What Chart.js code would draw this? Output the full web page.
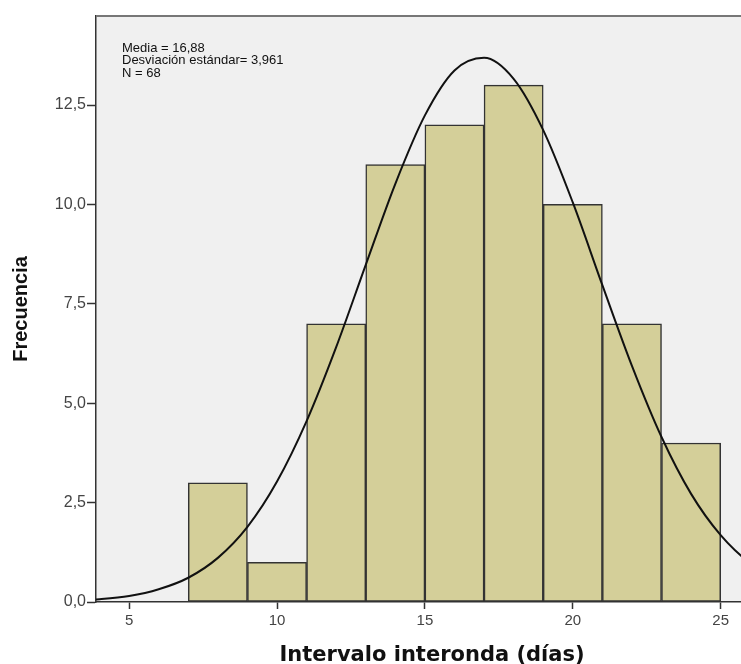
<!DOCTYPE html>
<html>
<head>
<meta charset="utf-8">
<script src="https://cdn.jsdelivr.net/npm/chart.js@4"></script>
<style>
  html, body { margin: 0; padding: 0; background: #fff; overflow: hidden; }
  /* the original plot runs past the right edge of the picture */
  #wrap { width: 768px; height: 664px; position: relative; }
</style>
</head>
<body>
<div id="wrap"><canvas id="hist"></canvas></div>
<script>
// histogram bins (centres, width 2 days) and counts
const binCenters = [8, 10, 12, 14, 16, 18, 20, 22, 24];
const binCounts = [3, 1, 7, 11, 12, 13, 10, 7, 4];

// normal curve
const curveX = [3.5, 4, 5, 6, 7, 8, 9, 10, 11, 12, 13, 14, 15, 16, 17, 18, 19, 20, 21, 22, 23, 24, 25, 26, 27];
const curveY = [0.05, 0.07, 0.15, 0.32, 0.61, 1.11, 1.89, 3.03, 4.55, 6.41, 8.48, 10.52, 12.24, 13.37, 13.69, 13.16, 11.87, 10.05, 7.97, 5.94, 4.15, 2.72, 1.68, 0.97, 0.52];

const xTicks = [5, 10, 15, 20, 25];
const yTicks = [0, 2.5, 5, 7.5, 10, 12.5];
const statsText = ['Media = 16,88', 'Desviación estándar= 3,961', 'N = 68'];

const plotFrame = {
    id: 'plotFrame',
    beforeDraw(chart) {
        const {ctx, chartArea: a} = chart;
        ctx.save();
        ctx.fillStyle = '#f0f0f0';
        ctx.fillRect(a.left, a.top, a.right - a.left, a.bottom - a.top);
        ctx.restore();
    },
    afterDraw(chart) {
        const {ctx, chartArea: a} = chart;
        ctx.save();
        ctx.strokeStyle = '#777';
        ctx.lineWidth = 2;
        ctx.beginPath();
        ctx.moveTo(a.left, a.top);
        ctx.lineTo(a.right, a.top);
        ctx.stroke();
        // stats box text
        ctx.fillStyle = '#111';
        ctx.font = '13px "Liberation Sans", Arial, sans-serif';
        ctx.textBaseline = 'middle';
        statsText.forEach((t, i) => ctx.fillText(t, 122, 48 + i * 12.5));
        ctx.restore();
    }
};

new Chart(document.getElementById('hist'), {
    data: {
        datasets: [
            {
                type: 'line',
                label: 'Normal',
                data: curveX.map((x, i) => ({x: x, y: curveY[i]})),
                borderColor: '#111',
                borderWidth: 2,
                pointRadius: 0,
                cubicInterpolationMode: 'monotone',
                fill: false,
                order: 0
            },
            {
                type: 'bar',
                label: 'Frecuencia',
                data: binCenters.map((x, i) => ({x: x, y: binCounts[i]})),
                backgroundColor: '#d4cf99',
                borderColor: '#333',
                borderWidth: 1.5,
                borderSkipped: false,
                barPercentage: 1,
                categoryPercentage: 1,
                grouped: false,
                order: 1
            }
        ]
    },
    options: {
        responsive: true,
        maintainAspectRatio: false,
        animation: false,
        layout: {padding: {top: 16, right: 0, left: 0, bottom: 0}},
        plugins: {
            legend: {display: false},
            tooltip: {enabled: false}
        },
        scales: {
            x: {
                type: 'linear',
                offset: false,
                min: 3.88,
                max: 26.6,
                afterBuildTicks: s => { s.ticks = xTicks.map(v => ({value: v})); },
                afterFit: s => { s.height = 62; },
                grid: {drawOnChartArea: false, offset: false, tickLength: 7, color: '#333', tickWidth: 1.5},
                border: {color: '#333', width: 1.5},
                ticks: {
                    color: '#444',
                    padding: 3,
                    font: {family: '"Liberation Sans", Arial, sans-serif', size: 15},
                    callback: v => String(v)
                },
                title: {
                    display: true,
                    text: 'Intervalo interonda (días)',
                    color: '#111',
                    padding: {top: 0, bottom: -4},
                    font: {family: '"DejaVu Sans", Verdana, sans-serif', size: 21, weight: 'bold'}
                }
            },
            y: {
                type: 'linear',
                min: 0,
                max: 14.74,
                afterBuildTicks: s => { s.ticks = yTicks.map(v => ({value: v})); },
                afterFit: s => { s.width = 96; },
                grid: {drawOnChartArea: false, tickLength: 9, color: '#333', tickWidth: 1.5},
                border: {color: '#333', width: 1.5},
                ticks: {
                    color: '#444',
                    padding: 1,
                    font: {family: '"Liberation Sans", Arial, sans-serif', size: 16},
                    callback: v => v.toFixed(1).replace('.', ',')
                },
                title: {
                    display: true,
                    text: 'Frecuencia',
                    color: '#111',
                    padding: {top: 9, bottom: 6},
                    font: {family: '"Liberation Sans", Arial, sans-serif', size: 20, weight: 'bold'}
                }
            }
        }
    },
    plugins: [plotFrame]
});
</script>
</body>
</html>
